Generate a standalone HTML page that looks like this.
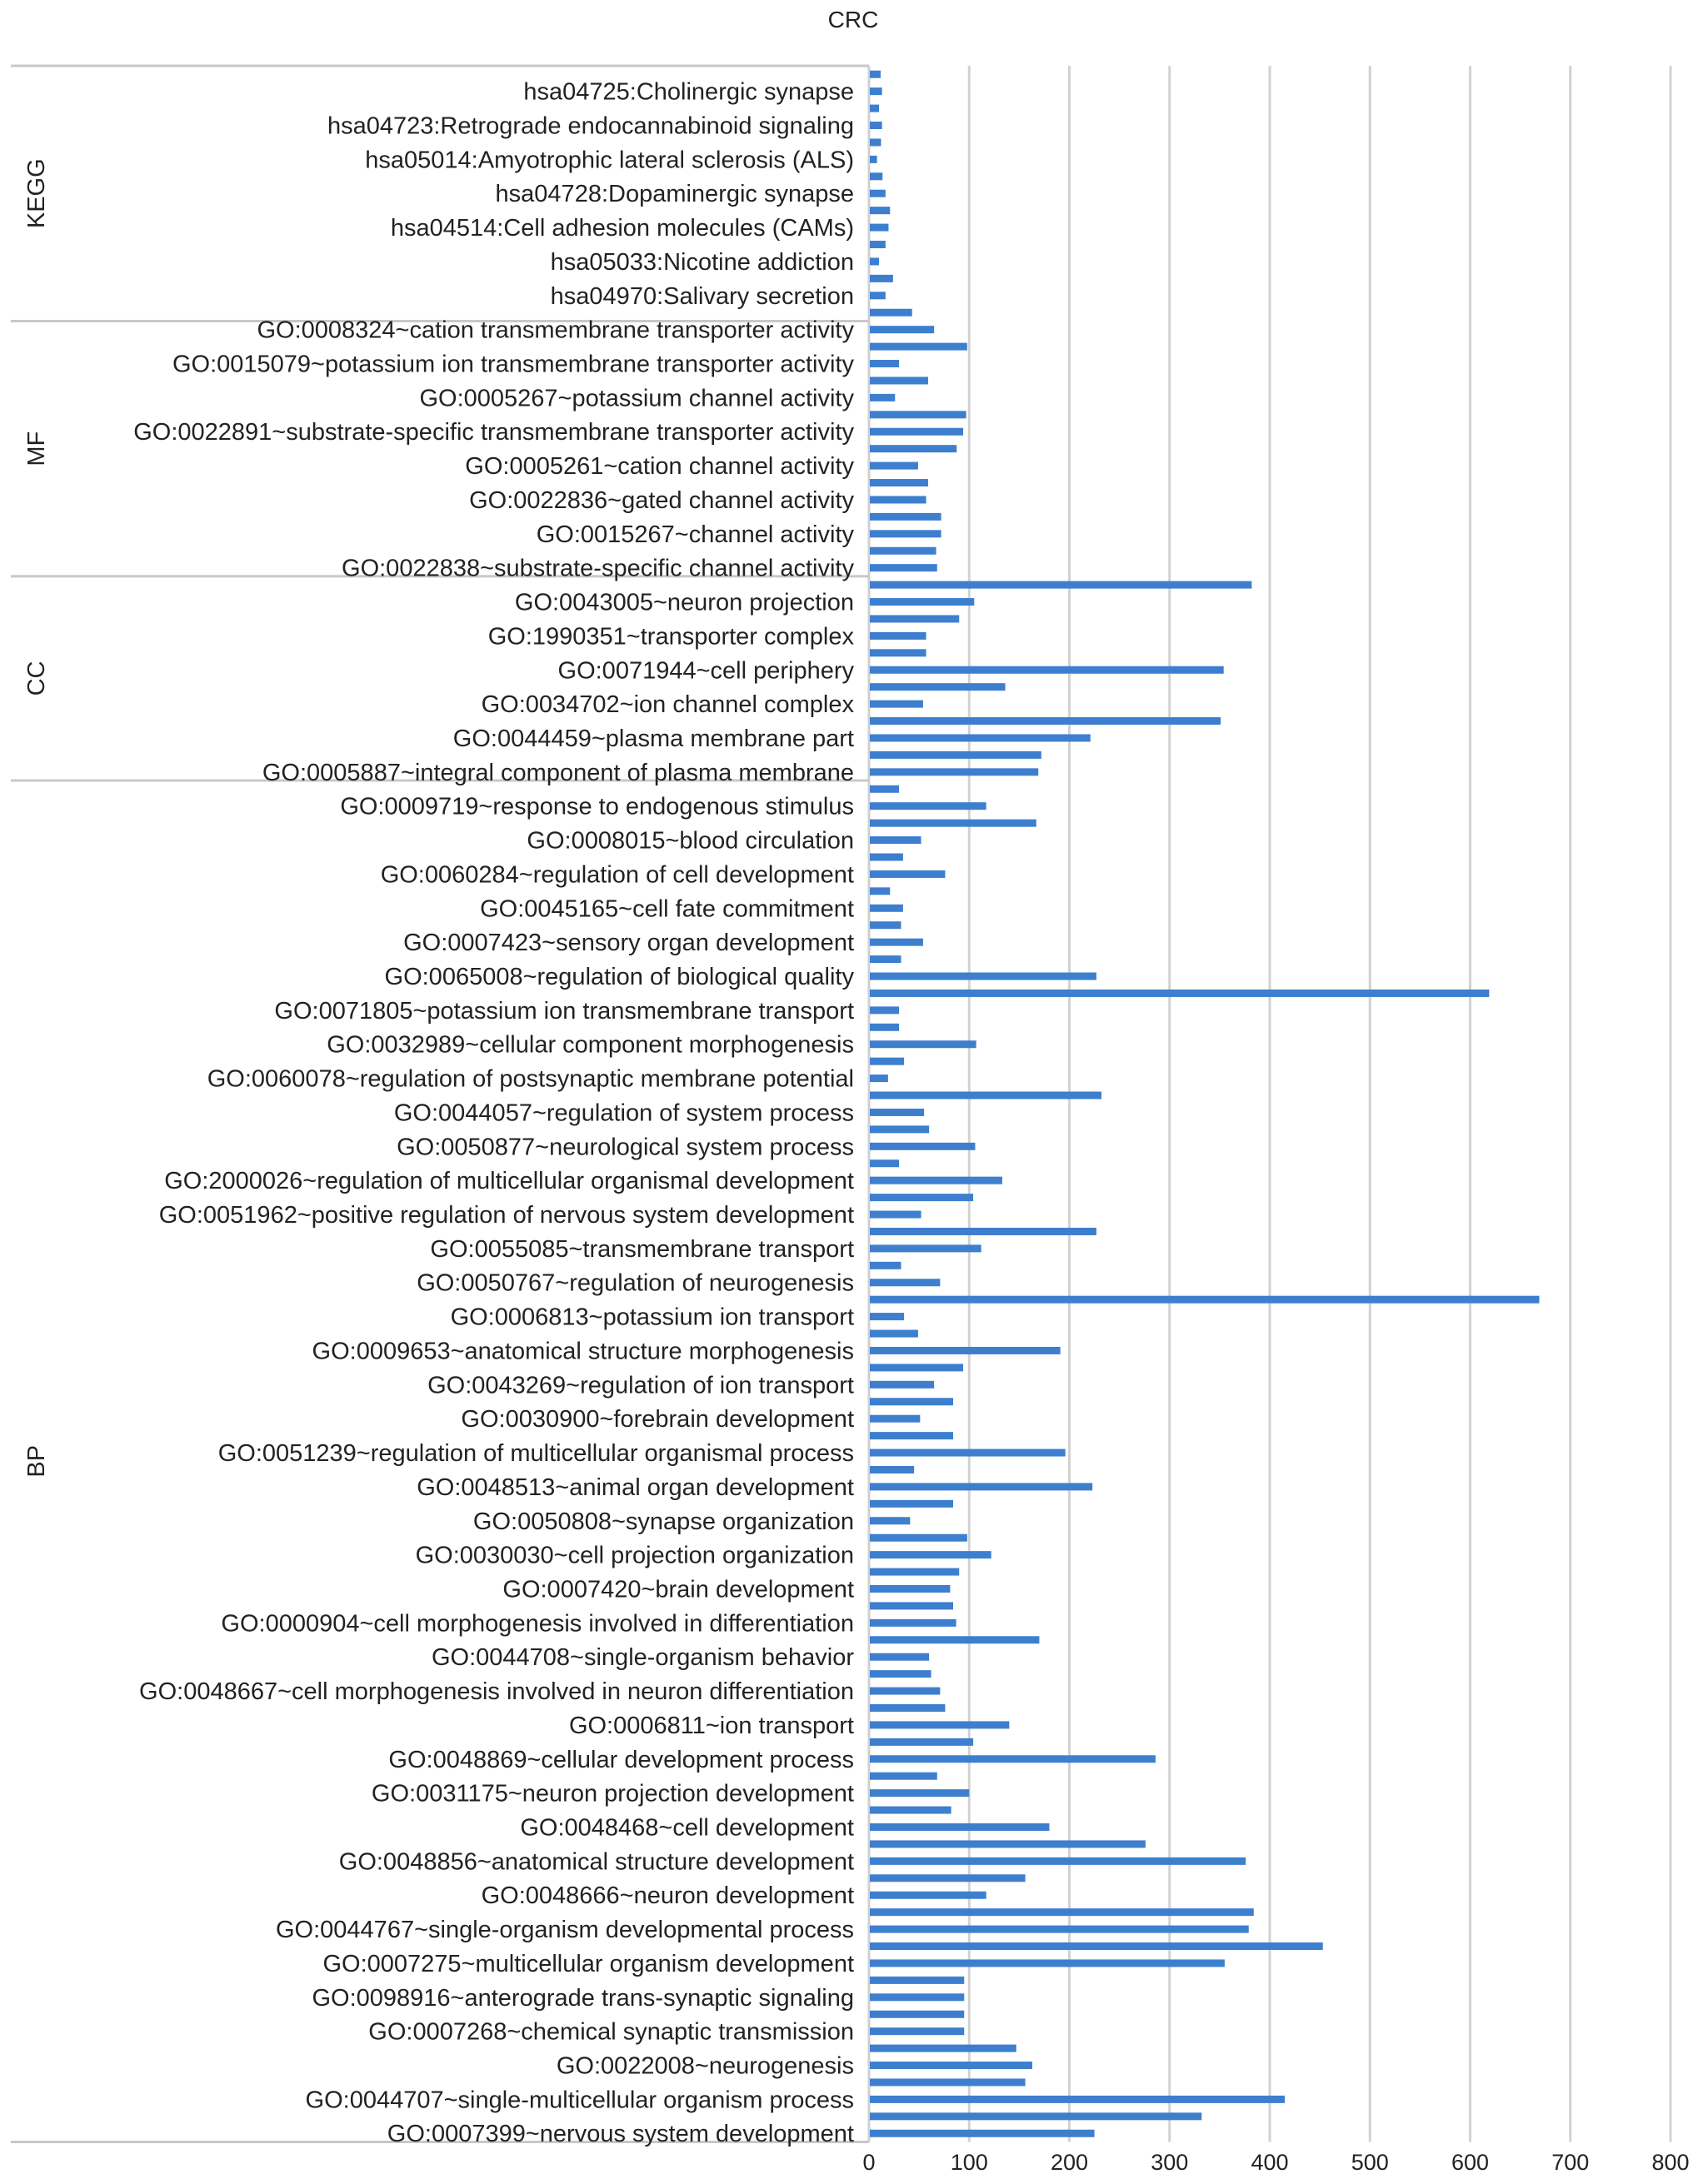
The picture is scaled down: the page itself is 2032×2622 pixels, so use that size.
<!DOCTYPE html>
<html>
<head>
<meta charset="utf-8">
<style>
  html, body { margin: 0; padding: 0; background: #ffffff; }
  svg { display: block; }
  text { font-family: "Liberation Sans", Arial, sans-serif; fill: #222; }
</style>
</head>
<body>
<svg id="chart" width="2032" height="2622" viewBox="0 0 2032 2622" xmlns="http://www.w3.org/2000/svg">
  <text x="1024" y="33" font-size="28" text-anchor="middle">CRC</text>
  <g id="grid"></g>
  <g id="seps"></g>
  <g id="bars"></g>
  <g id="labels"></g>
  <g id="groups"></g>
  <g id="xticks"></g>
</svg>
<script>
const values = [11.6,13,10,13,12,8,13.5,16.5,21,19.5,16.5,10,24,16.5,43,65,98,30,59,26,
97,94,87.5,49,59,57,72,72,67,68,382,105,90,57,57,354,136,54,351,
221,172,169,30,117,167,52,34,76,21,34,32,54,32,227,619,30,30,107,35,
19,232,55,60,106,30,133,104,52,227,112,32,71,669,35,49,191,94,65,84,51,
84,196,45,223,84,41,98,122,90,81,84,87,170,60,62,71,76,140,104,286,
68,100,82,180,276,376,156,117,384,379,453,355,95,95,95,95,147,163,156,415,332,225];

const labels = [
"hsa04725:Cholinergic synapse","hsa04723:Retrograde endocannabinoid signaling","hsa05014:Amyotrophic lateral sclerosis (ALS)","hsa04728:Dopaminergic synapse","hsa04514:Cell adhesion molecules (CAMs)","hsa05033:Nicotine addiction","hsa04970:Salivary secretion",
"GO:0008324~cation transmembrane transporter activity","GO:0015079~potassium ion transmembrane transporter activity","GO:0005267~potassium channel activity","GO:0022891~substrate-specific transmembrane transporter activity","GO:0005261~cation channel activity","GO:0022836~gated channel activity","GO:0015267~channel activity","GO:0022838~substrate-specific channel activity",
"GO:0043005~neuron projection","GO:1990351~transporter complex","GO:0071944~cell periphery","GO:0034702~ion channel complex","GO:0044459~plasma membrane part","GO:0005887~integral component of plasma membrane",
"GO:0009719~response to endogenous stimulus","GO:0008015~blood circulation","GO:0060284~regulation of cell development","GO:0045165~cell fate commitment","GO:0007423~sensory organ development","GO:0065008~regulation of biological quality","GO:0071805~potassium ion transmembrane transport","GO:0032989~cellular component morphogenesis","GO:0060078~regulation of postsynaptic membrane potential","GO:0044057~regulation of system process","GO:0050877~neurological system process","GO:2000026~regulation of multicellular organismal development","GO:0051962~positive regulation of nervous system development","GO:0055085~transmembrane transport","GO:0050767~regulation of neurogenesis","GO:0006813~potassium ion transport","GO:0009653~anatomical structure morphogenesis","GO:0043269~regulation of ion transport","GO:0030900~forebrain development","GO:0051239~regulation of multicellular organismal process","GO:0048513~animal organ development","GO:0050808~synapse organization","GO:0030030~cell projection organization","GO:0007420~brain development","GO:0000904~cell morphogenesis involved in differentiation","GO:0044708~single-organism behavior","GO:0048667~cell morphogenesis involved in neuron differentiation","GO:0006811~ion transport","GO:0048869~cellular development process","GO:0031175~neuron projection development","GO:0048468~cell development","GO:0048856~anatomical structure development","GO:0048666~neuron development","GO:0044767~single-organism developmental process","GO:0007275~multicellular organism development","GO:0098916~anterograde trans-synaptic signaling","GO:0007268~chemical synaptic transmission","GO:0022008~neurogenesis","GO:0044707~single-multicellular organism process","GO:0007399~nervous system development"];

const groupNames = ["KEGG","MF","CC","BP"];
const groupSizes = [15,15,12,80];
const xTicks = [0,100,200,300,400,500,600,700,800];

const NS = "http://www.w3.org/2000/svg";
const x0 = 1043, pxPer = 1.2025, plotTop = 79, pitch = 20.43, barH = 9;
const xs = v => x0 + v * pxPer;
const yc = i => plotTop + (i + 0.5) * pitch;
const plotBottom = plotTop + values.length * pitch;

function mk(tag, attrs, parent) {
  const e = document.createElementNS(NS, tag);
  for (const k in attrs) e.setAttribute(k, attrs[k]);
  parent.appendChild(e);
  return e;
}

const grid = document.getElementById('grid');
const xt = document.getElementById('xticks');
xTicks.forEach((t, k) => {
  if (k > 0) {
    const l = mk('line', {x1: xs(t), x2: xs(t), y1: plotTop, y2: plotBottom, stroke: '#d2d2d2', 'stroke-width': 3}, grid);
    
    
  }
  const tx = mk('text', {x: xs(t), y: 2605, 'font-size': 27, 'text-anchor': 'middle'}, xt);
  tx.textContent = t;
  
  
});
const ax = mk('line', {x1: x0, x2: x0, y1: plotTop, y2: plotBottom, stroke: '#cfcfcf', 'stroke-width': 3}, grid);



const seps = document.getElementById('seps');
const groups = document.getElementById('groups');
let acc = 0;
const boundaries = [0];
groupSizes.forEach(s => { acc += s; boundaries.push(acc); });
boundaries.forEach(b => {
  const y = plotTop + b * pitch;
  const l = mk('line', {x1: 13, x2: x0, y1: y, y2: y, stroke: '#c8c8c8', 'stroke-width': 3}, seps);
  
  
});
groupNames.forEach((g, k) => {
  const cy = plotTop + (boundaries[k] + boundaries[k + 1]) / 2 * pitch;
  const t = mk('text', {x: 0, y: 0, 'font-size': 29, 'text-anchor': 'middle', transform: 'translate(53,' + cy + ') rotate(-90)'}, groups);
  t.textContent = g;
  
  
});

const bars = document.getElementById('bars');
values.forEach((v, i) => {
  const r = mk('rect', {x: x0 + 1, y: yc(i) - barH / 2, width: Math.max(0, xs(v) - x0 - 1), height: barH, fill: '#3d7fce'}, bars);
  
  
});

const lg = document.getElementById('labels');
labels.forEach((lab, k) => {
  const i = 2 * k + 1;
  const t = mk('text', {x: 1025, y: yc(i) + 10, 'font-size': 29, 'text-anchor': 'end'}, lg);
  t.textContent = lab;
  
  
});
</script>
</body>
</html>
